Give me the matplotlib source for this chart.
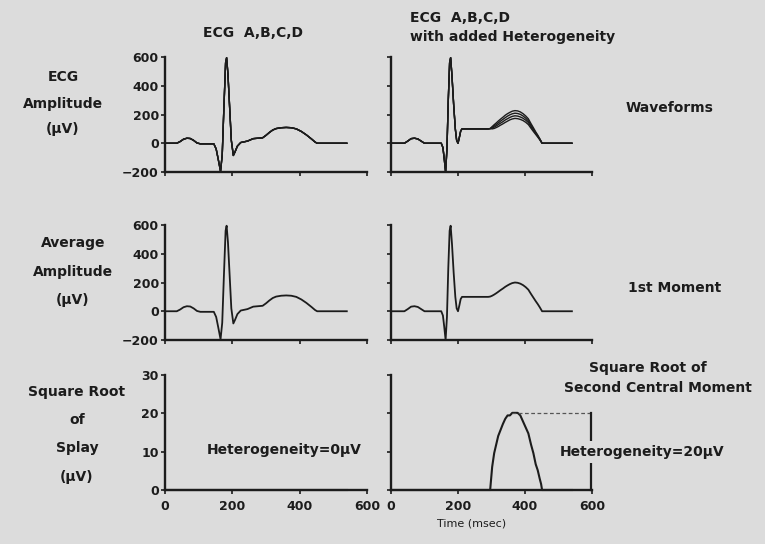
import numpy as np
import matplotlib
matplotlib.use("Agg")
import matplotlib.pyplot as plt

# ---- data -------------------------------------------------------------
leads = ["A", "B", "C", "D"]

# identical waveforms for leads A-D (no heterogeneity)
t_left = [0, 35, 45, 55, 65, 75, 85, 95, 105, 145, 152, 158, 165, 170, 175,
          180, 183, 187, 192, 197, 203, 208, 215, 225, 245, 262, 290, 300,
          310, 320, 330, 345, 360, 375, 390, 405, 420, 435, 446, 452, 540]
ecg_left = [0, 0, 12, 28, 35, 33, 20, 2, -4, -4, -40, -110, -195, -80, 250,
            560, 595, 480, 250, 20, -85, -60, -20, 5, 15, 32, 38, 55,
            75, 92, 102, 108, 110, 108, 100, 82, 58, 30, 8, 0, 0]

# waveforms with added heterogeneity: shared P-QRS-ST part
t_pre = [0, 40, 50, 60, 70, 80, 90, 100, 150, 155, 159, 163, 167, 171, 175,
         178, 182, 187, 192, 196, 200, 204, 208, 212, 290]
ecg_pre = [0, 0, 15, 32, 35, 30, 15, 0, 0, -30, -110, -200, -40, 300, 560,
           595, 470, 270, 100, 20, 0, 40, 85, 100, 100]
# T waves of the four leads
t_twave = [296, 302, 308, 314, 320, 327, 334, 341, 348, 355, 362, 370, 378,
           386, 394, 402, 410, 418, 425, 432, 438, 444, 448, 451, 540]
twave_A = [102, 100, 103, 109, 116, 126, 135, 145, 154, 163, 169, 173, 171,
           166, 158, 146, 130, 104, 82, 61, 43, 24, 10, 0, 0]
twave_B = [102, 105, 112, 120, 129, 140, 150, 162, 171, 180, 187, 191, 189,
           183, 174, 161, 144, 115, 91, 67, 48, 27, 11, 0, 0]
twave_C = [102, 111, 120, 130, 141, 154, 166, 178, 189, 198, 205, 209, 207,
           201, 190, 175, 156, 125, 99, 73, 52, 29, 13, 0, 0]
twave_D = [102, 116, 129, 141, 154, 168, 181, 195, 206, 215, 223, 227, 225,
           218, 206, 190, 170, 136, 108, 79, 57, 32, 14, 0, 0]

heterogeneity = [0, 20]  # µV, left and right columns

x_ticks = [0, 200, 400, 600]
amp_ticks = [-200, 0, 200, 400, 600]
splay_ticks = [0, 10, 20, 30]

# ---- assemble series ----------------------------------------------------
t_right = np.array(t_pre + t_twave)
right_set = np.array([ecg_pre + tw for tw in (twave_A, twave_B, twave_C, twave_D)])
left_set = np.array([ecg_left for _ in leads])
t_left = np.array(t_left)

columns = [(t_left, left_set), (t_right, right_set)]

# ---- figure -------------------------------------------------------------
BG = "#dcdcdc"
INK = "#1c1c1c"
W, H = 765, 544
fig = plt.figure(figsize=(W / 100, H / 100), dpi=100, facecolor=BG)
plt.rcParams["font.family"] = ["DejaVu Sans"]
FS = 10    # labels
TFS = 9    # tick labels


def px_axes(x0, y0, x1, y1):
    return fig.add_axes([x0 / W, 1 - y1 / H, (x1 - x0) / W, (y1 - y0) / H])


def ftext(x, y, s, ha="center", size=FS, weight="bold"):
    fig.text(x / W, 1 - y / H, s, ha=ha, va="center", fontsize=size,
             fontweight=weight, color=INK)


col_x = [(165, 367), (391, 592)]
row_y = [(57, 172), (225, 340), (375, 490)]
het_text_pos = [(354, 10.4), (749, 9.9)]

for ci, (t, wave_set) in enumerate(columns):
    mean_wave = wave_set.mean(axis=0)
    splay = wave_set.std(axis=0)
    for ri in range(3):
        ax = px_axes(col_x[ci][0], row_y[ri][0], col_x[ci][1], row_y[ri][1])
        ax.patch.set_alpha(0)
        for side in ("top", "right"):
            ax.spines[side].set_visible(False)
        for side in ("left", "bottom"):
            ax.spines[side].set_linewidth(1.7)
            ax.spines[side].set_color(INK)
        ax.tick_params(direction="out", length=3, width=1.2, colors=INK,
                       labelsize=TFS, pad=1.5)
        ax.set_xlim(0, 600)
        ax.set_xticks(x_ticks)
        if ri == 0:
            for w in wave_set:
                ax.plot(t, w, color=INK, lw=1.0, clip_on=False)
        elif ri == 1:
            ax.plot(t, mean_wave, color=INK, lw=1.3, clip_on=False)
        else:
            ax.plot(t, splay, color=INK, lw=1.5, clip_on=False)
        if ri < 2:
            ax.set_ylim(-200, 600)
            ax.set_yticks(amp_ticks)
            ax.tick_params(axis="x", labelbottom=False)
        else:
            ax.set_ylim(0, 30)
            ax.set_yticks(splay_ticks)
            ax.tick_params(axis="x", pad=4)
        if ci == 1:
            ax.tick_params(axis="y", labelleft=False)
        for lab in ax.get_xticklabels() + ax.get_yticklabels():
            lab.set_fontweight("bold")

        if ri == 2:
            h = heterogeneity[ci]
            tx, ty = het_text_pos[ci]
            box = None
            if ci == 1:
                t_peak = t[np.argmax(splay)]
                ax.plot([t_peak, 597], [h, h], color="#555555", lw=0.9,
                        ls=(0, (3, 2)), clip_on=False)
                ax.plot([597, 597], [h, 0], color=INK, lw=1.6, clip_on=False)
                box = dict(facecolor=BG, edgecolor="none", pad=3)
            ax.text(tx, ty, f"Heterogeneity={h}µV", ha="center", va="center",
                    fontsize=FS, fontweight="bold", color=INK, clip_on=False,
                    bbox=box)

# ---- row labels and titles ---------------------------------------------
ftext(63, 77, "ECG")
ftext(63, 104, "Amplitude")
ftext(63, 129, "(µV)")

ftext(73, 243, "Average")
ftext(73, 272, "Amplitude")
ftext(73, 300, "(µV)")

ftext(77, 392, "Square Root")
ftext(77, 420, "of")
ftext(77, 448, "Splay")
ftext(77, 477, "(µV)")

ftext(253, 33, "ECG  A,B,C,D")
ftext(410, 18, "ECG  A,B,C,D", ha="left")
ftext(410, 37, "with added Heterogeneity", ha="left")

ftext(670, 108, "Waveforms")
ftext(675, 288, "1st Moment")
ftext(648, 368, "Square Root of")
ftext(658, 388, "Second Central Moment")
ftext(472, 523, "Time (msec)", size=8, weight="normal")

fig.savefig("out.png", dpi=100, facecolor=BG)
